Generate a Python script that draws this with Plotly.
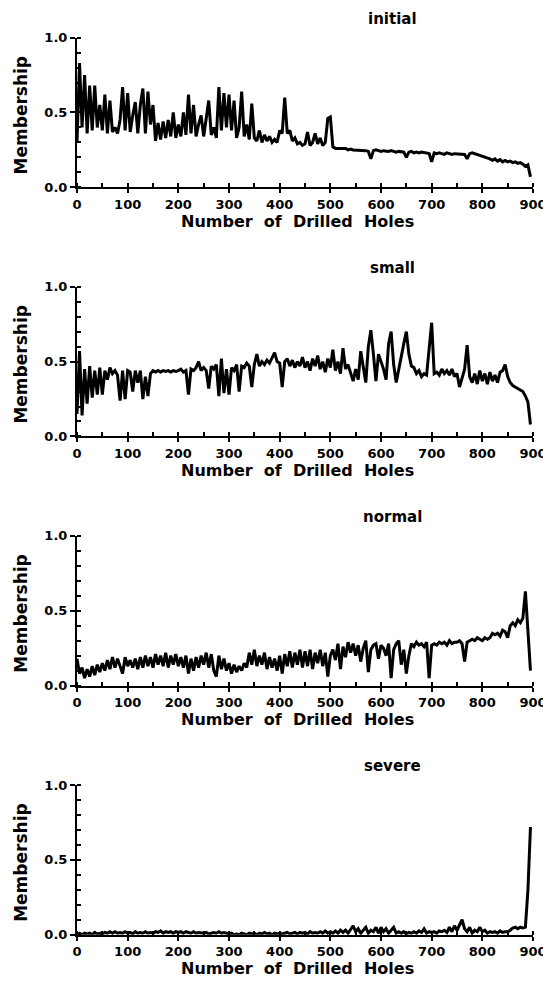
import plotly.graph_objects as go

# ---------------- data (every 5 drilled holes) ----------------
holes = list(range(0, 900, 5))

initial = [
    0.30, 0.83, 0.40, 0.75, 0.36, 0.68, 0.38, 0.68, 0.40, 0.55,
    0.38, 0.62, 0.36, 0.58, 0.37, 0.40, 0.36, 0.45, 0.67, 0.38,
    0.63, 0.37, 0.48, 0.57, 0.36, 0.55, 0.66, 0.36, 0.64, 0.42,
    0.55, 0.31, 0.43, 0.32, 0.44, 0.33, 0.45, 0.34, 0.50, 0.33,
    0.42, 0.34, 0.50, 0.35, 0.62, 0.36, 0.55, 0.34, 0.42, 0.48,
    0.34, 0.45, 0.58, 0.35, 0.40, 0.33, 0.67, 0.38, 0.63, 0.40,
    0.62, 0.38, 0.58, 0.33, 0.40, 0.64, 0.34, 0.42, 0.32, 0.56,
    0.33, 0.31, 0.38, 0.30, 0.35, 0.31, 0.34, 0.30, 0.32, 0.30,
    0.38, 0.36, 0.60, 0.36, 0.38, 0.31, 0.33, 0.29, 0.30, 0.28,
    0.29, 0.37, 0.28, 0.30, 0.36, 0.29, 0.33, 0.28, 0.30, 0.46,
    0.47, 0.27, 0.26, 0.26, 0.26, 0.255, 0.26, 0.25, 0.255, 0.25,
    0.25, 0.25, 0.245, 0.25, 0.245, 0.24, 0.19, 0.245, 0.25, 0.245,
    0.24, 0.245, 0.24, 0.24, 0.245, 0.24, 0.235, 0.24, 0.24, 0.235,
    0.20, 0.235, 0.24, 0.23, 0.235, 0.23, 0.235, 0.23, 0.23, 0.225,
    0.17, 0.23, 0.225, 0.23, 0.225, 0.22, 0.23, 0.225, 0.22, 0.225,
    0.225, 0.22, 0.225, 0.22, 0.19, 0.225, 0.23, 0.225, 0.22, 0.215,
    0.21, 0.205, 0.20, 0.19, 0.18, 0.19, 0.175, 0.185, 0.17, 0.18,
    0.17, 0.175, 0.165, 0.17, 0.16, 0.165, 0.155, 0.14, 0.15, 0.07,
]

small = [
    0.15, 0.57, 0.14, 0.45, 0.22, 0.47, 0.26, 0.44, 0.28, 0.46,
    0.28, 0.44, 0.38, 0.46, 0.42, 0.44, 0.41, 0.24, 0.44, 0.25,
    0.44, 0.43, 0.30, 0.44, 0.36, 0.44, 0.25, 0.40, 0.27, 0.42,
    0.44, 0.43, 0.44, 0.43, 0.44, 0.435, 0.44, 0.43, 0.44, 0.435,
    0.44, 0.45, 0.43, 0.44, 0.28, 0.45, 0.44, 0.46, 0.50, 0.44,
    0.46, 0.44, 0.32, 0.47, 0.45, 0.48, 0.27, 0.52, 0.29, 0.45,
    0.28, 0.46, 0.44, 0.48, 0.30, 0.47, 0.46, 0.49, 0.47, 0.33,
    0.48, 0.55, 0.47, 0.50, 0.48, 0.51, 0.49, 0.52, 0.56, 0.50,
    0.49, 0.33, 0.50, 0.52, 0.47, 0.51, 0.46, 0.50, 0.47, 0.53,
    0.46, 0.50, 0.44, 0.52, 0.47, 0.54, 0.45, 0.50, 0.43, 0.52,
    0.46, 0.58, 0.44, 0.50, 0.42, 0.59, 0.45, 0.48, 0.42, 0.37,
    0.45, 0.38, 0.57, 0.45, 0.36, 0.60, 0.71, 0.55, 0.37, 0.55,
    0.50, 0.45, 0.38, 0.62, 0.70, 0.48, 0.36, 0.45, 0.55, 0.62,
    0.70, 0.55, 0.47, 0.46, 0.42, 0.44, 0.40, 0.42, 0.41, 0.60,
    0.76, 0.42, 0.43, 0.41, 0.45, 0.42, 0.44, 0.41, 0.45, 0.40,
    0.42, 0.33, 0.40, 0.45, 0.61, 0.40, 0.36, 0.42, 0.35, 0.44,
    0.37, 0.42, 0.35, 0.43, 0.37, 0.41, 0.36, 0.43, 0.44, 0.48,
    0.40, 0.36, 0.34, 0.33, 0.32, 0.31, 0.30, 0.27, 0.23, 0.08,
]

normal = [
    0.18, 0.08, 0.12, 0.05, 0.11, 0.06, 0.13, 0.07, 0.14, 0.09,
    0.15, 0.10, 0.17, 0.11, 0.19, 0.12, 0.18, 0.13, 0.08, 0.19,
    0.13, 0.17, 0.12, 0.18, 0.11, 0.19, 0.12, 0.20, 0.13, 0.19,
    0.12, 0.21, 0.14, 0.20, 0.13, 0.22, 0.12, 0.20, 0.14, 0.21,
    0.13, 0.19, 0.12, 0.20, 0.08, 0.18, 0.10, 0.19, 0.12, 0.20,
    0.14, 0.22, 0.12, 0.21, 0.10, 0.06, 0.20, 0.11, 0.18, 0.10,
    0.15, 0.08, 0.14, 0.09, 0.13, 0.10, 0.15, 0.12, 0.22, 0.14,
    0.24, 0.13, 0.20, 0.14, 0.22, 0.11, 0.19, 0.12, 0.18, 0.10,
    0.20, 0.08, 0.21, 0.13, 0.23, 0.12, 0.22, 0.14, 0.24, 0.12,
    0.23, 0.13, 0.24, 0.11, 0.22, 0.15, 0.24, 0.13, 0.22, 0.06,
    0.20, 0.24, 0.17, 0.28, 0.11, 0.26, 0.19, 0.29, 0.22, 0.28,
    0.20, 0.27, 0.16, 0.25, 0.30, 0.09, 0.24, 0.27, 0.28, 0.18,
    0.27, 0.25, 0.20, 0.28, 0.05, 0.24, 0.28, 0.30, 0.14, 0.24,
    0.08, 0.20, 0.28, 0.26, 0.29, 0.27, 0.28, 0.26, 0.29, 0.05,
    0.27, 0.28, 0.27, 0.29, 0.28, 0.29, 0.27, 0.30, 0.28, 0.29,
    0.29, 0.30, 0.28, 0.16, 0.29, 0.30, 0.31, 0.30, 0.32, 0.31,
    0.30, 0.32, 0.31, 0.32, 0.35, 0.34, 0.35, 0.33, 0.37, 0.36,
    0.32, 0.40, 0.42, 0.40, 0.44, 0.42, 0.45, 0.63, 0.38, 0.10,
]

severe = [
    0.0, 0.01, 0.0, 0.01, 0.005, 0.01, 0.0, 0.015, 0.005, 0.01,
    0.005, 0.015, 0.01, 0.02, 0.01, 0.02, 0.01, 0.015, 0.01, 0.02,
    0.01, 0.015, 0.005, 0.02, 0.01, 0.015, 0.01, 0.02, 0.01, 0.015,
    0.01, 0.02, 0.015, 0.025, 0.01, 0.02, 0.015, 0.02, 0.01, 0.02,
    0.015, 0.02, 0.01, 0.02, 0.015, 0.01, 0.02, 0.01, 0.015, 0.01,
    0.01, 0.015, 0.005, 0.01, 0.015, 0.01, 0.02, 0.01, 0.015, 0.01,
    0.005, 0.01, 0.0, 0.005, 0.0, 0.01, 0.005, 0.0, 0.01, 0.005,
    0.01, 0.0, 0.01, 0.005, 0.015, 0.005, 0.01, 0.0, 0.01, 0.005,
    0.01, 0.005, 0.01, 0.015, 0.005, 0.01, 0.015, 0.005, 0.015, 0.01,
    0.015, 0.005, 0.02, 0.01, 0.015, 0.01, 0.02, 0.01, 0.025, 0.01,
    0.02, 0.01, 0.025, 0.01, 0.03, 0.015, 0.03, 0.01, 0.035, 0.06,
    0.02, 0.04, 0.01, 0.03, 0.05, 0.01, 0.03, 0.02, 0.05, 0.01,
    0.05, 0.02, 0.04, 0.01, 0.03, 0.05, 0.01, 0.02, 0.01, 0.02,
    0.005, 0.015, 0.01, 0.02, 0.01, 0.025, 0.015, 0.04, 0.01, 0.02,
    0.015, 0.02, 0.01, 0.025, 0.02, 0.03, 0.015, 0.05, 0.02, 0.06,
    0.03, 0.07, 0.10, 0.04, 0.02, 0.05, 0.01, 0.03, 0.02, 0.05,
    0.02, 0.03, 0.01, 0.02, 0.015, 0.02, 0.01, 0.025, 0.015, 0.02,
    0.02, 0.03, 0.045, 0.05, 0.04, 0.05, 0.045, 0.05, 0.30, 0.72,
]

panel_titles = ["initial", "small", "normal", "severe"]
x_title = "Number\u00a0 of\u00a0 Drilled\u00a0 Holes"
y_title = "Membership"

series = [initial, small, normal, severe]
for s in series:
    assert len(s) == len(holes)

# ---------------- layout geometry (page pixels; page body has an 8px margin) ----------------
OFF = 8
W, H = 551 - OFF, 989 - OFF
X0, X1 = 77 - OFF, 533 - OFF          # x = 0 and x = 900 in figure pixels
TOPS = [31, 284, 537, 790]            # page y of Membership = 1.0
PH = 152                              # panel height (page px)

FONT = "DejaVu Sans"
tickfont = dict(family=FONT, size=13, color="black", weight="bold")

def px_x(px_page):
    return (px_page - OFF - X0) / (X1 - X0)

def px_y(py_page):
    return 1 - (py_page - OFF) / H

fig = go.Figure()
layout = dict(
    width=W, height=H,
    margin=dict(l=X0, r=W - X1, t=0, b=0),
    paper_bgcolor="white", plot_bgcolor="white",
    showlegend=False,
)
annotations = []

for i, (name, ys) in enumerate(zip(panel_titles, series)):
    suf = "" if i == 0 else str(i + 1)
    top = TOPS[i]
    bot = top + PH
    fig.add_trace(go.Scatter(
        x=holes, y=ys, mode="lines",
        line=dict(color="black", width=3),
        xaxis="x" + suf, yaxis="y" + suf,
        hoverinfo="skip",
    ))
    layout["xaxis" + suf] = dict(
        domain=[0, 1], anchor="y" + suf, range=[0, 900],
        showline=True, linecolor="black", linewidth=2,
        ticks="outside", ticklen=4, tickwidth=2, tickcolor="black",
        tickmode="linear", tick0=0, dtick=100,
        tickfont=tickfont, showgrid=False, zeroline=False,
        minor=dict(ticks="inside", ticklen=4, tickwidth=2, tickcolor="black",
                   tickmode="linear", tick0=0, dtick=50, showgrid=False),
    )
    layout["yaxis" + suf] = dict(
        domain=[px_y(bot), px_y(top)], anchor="x" + suf, range=[0, 1],
        showline=True, linecolor="black", linewidth=2,
        ticks="outside", ticklen=5, tickwidth=2, tickcolor="black",
        tickmode="linear", tick0=0, dtick=0.5, tickformat=".1f",
        tickfont=tickfont, showgrid=False, zeroline=False,
        minor=dict(ticks="inside", ticklen=4, tickwidth=2, tickcolor="black",
                   tickmode="linear", tick0=0, dtick=0.1, showgrid=False),
    )
    # panel title
    annotations.append(dict(
        text=name, xref="paper", yref="paper",
        x=px_x(392), y=px_y(top - 19), xanchor="center", yanchor="middle",
        showarrow=False, font=dict(family=FONT, size=15, color="black", weight="bold"),
    ))
    # y-axis title
    annotations.append(dict(
        text=y_title, xref="paper", yref="paper", textangle=-90,
        x=px_x(21), y=px_y(top + PH / 2 + 3), xanchor="center", yanchor="middle",
        showarrow=False, font=dict(family=FONT, size=17, color="black", weight="bold"),
    ))
    # x-axis title
    annotations.append(dict(
        text=x_title, xref="paper", yref="paper",
        x=px_x(297), y=px_y(bot + 34.5), xanchor="center", yanchor="middle",
        showarrow=False, font=dict(family=FONT, size=16, color="black", weight="bold"),
    ))

layout["annotations"] = annotations
fig.update_layout(**layout)
fig.write_html("out.html")
